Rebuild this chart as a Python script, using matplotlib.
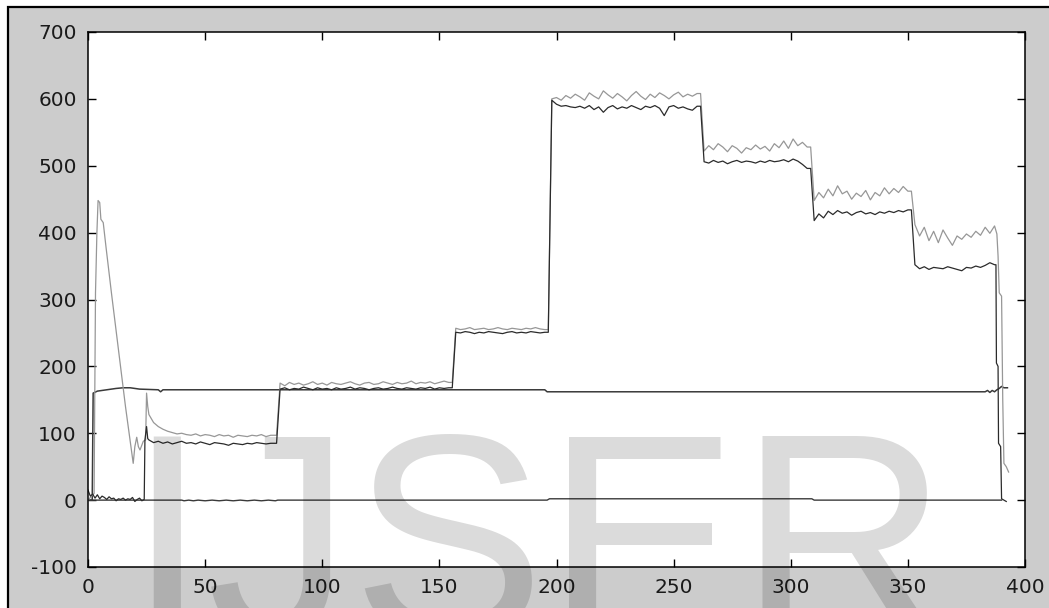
import numpy as np
from matplotlib import pyplot as plt
from matplotlib.patches import Rectangle

plt.rcParams['axes.unicode_minus'] = False

# ---- data ----
# gray trace (upper) : start-up part, then plateaus sampled every 2 s
gray_head_x = [0, 1, 2, 2.6, 3.2, 3.8, 4.3, 5, 5.5, 6.5, 7.7, 10, 13, 16, 19.3, 20, 20.8, 21.5, 22.2, 23.6, 24.6, 25, 25.5]
gray_head_y = [0, 4, 8, 10, 310, 400, 448, 445, 420, 415, 378, 310, 225, 140, 55, 80, 94, 80, 75, 88, 90, 160, 140]
gray_p1 = [128, 116, 110, 106, 103, 101, 99, 100, 98, 97, 99, 96, 98, 97, 95, 98, 96, 97, 94, 97, 96, 95, 97, 96, 98, 95, 97]
gray_p2 = [175, 171, 176, 173, 175, 172, 174, 177, 173, 175, 172, 176, 174, 173, 175, 177, 174, 172, 175, 176, 173,
           174, 177, 175, 173, 176, 174, 175, 178, 174, 176, 175, 177, 174, 176, 178, 176]
gray_p3 = [257, 255, 256, 258, 255, 256, 257, 255, 256, 258, 256, 255, 257, 256, 255, 257, 256, 258, 256, 255]
gray_p4 = [600, 602, 598, 605, 601, 607, 603, 598, 609, 604, 600, 612, 606, 601, 608, 603, 597, 605, 611, 604, 599,
           607, 602, 609, 605, 600, 606, 610, 603, 607, 604, 608]
gray_p5 = [522, 530, 524, 533, 528, 521, 530, 526, 519, 527, 524, 531, 525, 529, 522, 533, 527, 537, 526, 540, 530, 535, 528]
gray_p6 = [448, 460, 452, 465, 455, 470, 458, 462, 450, 459, 454, 463, 449, 460, 455, 467, 458, 466, 460, 469, 462]
gray_p7 = [412, 395, 408, 388, 402, 385, 404, 392, 381, 395, 390, 398, 393, 402, 396, 408, 399, 410]
gray_tail_x = [388, 388.5, 389, 390, 390.5, 391, 392, 393]
gray_tail_y = [398, 365, 310, 305, 150, 55, 50, 42]

# black trace (lower)
black_head_x = [0, 1, 2, 3, 4, 5, 6, 7, 8, 9, 10, 11, 12, 13, 14, 15, 16, 17, 18, 19, 20, 21, 22, 23, 24, 24.3, 25, 25.5]
black_head_y = [15, 6, 9, 3, 8, 2, 6, 4, 1, 5, 2, 3, -1, 2, 1, 3, 0, 2, 1, 4, -2, 1, 3, -1, 1, 90, 110, 92]
black_p1 = [90, 86, 88, 85, 87, 84, 86, 88, 85, 86, 84, 87, 85, 83, 86, 85, 84, 82, 85, 84, 83, 85, 84, 86, 85, 84, 85]
black_p2 = [166, 168, 165, 167, 166, 169, 167, 165, 168, 166, 167, 165, 168, 166, 167, 169, 166, 168, 167, 165, 167,
            168, 166, 167, 169, 167, 166, 168, 167, 166, 168, 167, 169, 166, 168, 167, 168]
black_p3 = [251, 250, 252, 251, 249, 251, 250, 252, 251, 250, 249, 251, 252, 250, 251, 250, 252, 251, 250, 251]
black_p4 = [598, 592, 589, 590, 588, 587, 589, 586, 590, 584, 588, 580, 587, 590, 585, 588, 586, 590, 587, 584, 589,
            587, 590, 586, 575, 588, 590, 586, 588, 585, 583, 589]
black_p5 = [506, 504, 508, 505, 507, 503, 506, 508, 505, 507, 506, 504, 507, 505, 508, 506, 507, 509, 506, 510, 507, 502, 496]
black_p6 = [418, 428, 422, 432, 427, 433, 429, 431, 426, 430, 432, 428, 430, 427, 431, 429, 432, 430, 433, 431, 434]
black_p7 = [352, 346, 349, 345, 348, 347, 346, 349, 347, 345, 343, 348, 347, 350, 348, 351, 355, 352]
black_tail_x = [387.6, 387.8, 388.5, 388.7, 389.6, 390, 391, 392]
black_tail_y = [352, 205, 200, 85, 80, 2, 0, -2]

# plateau start times (s) for p1..p7
plateau_start = [26, 82, 157, 198, 263, 310, 353]

# flat trace near 165
flat_x = [0, 1.8, 2.2, 4, 8, 12, 15, 18, 20, 22, 30, 31, 32, 60, 100, 150, 195, 196, 250, 300, 350,
          383, 384, 385, 386, 387, 388, 389, 390, 391, 392.5]
flat_y = [0, 0, 160, 163, 165, 167, 168, 168, 167, 166, 165, 162, 165, 165, 165, 165, 165, 162, 162, 162, 162,
          162, 164, 161, 164, 162, 165, 167, 170, 168, 168]

# trace near zero
zero_x = [0, 40, 41, 43, 45, 47, 50, 53, 56, 59, 62, 65, 68, 71, 74, 77, 80, 81, 196, 197, 309, 310, 390]
zero_y = [0, 0, -1, 0, -1, 0, -1, 0, -1, 0, -1, 0, -1, 0, -1, 0, -1, 0, 0, 2, 2, 0, 0]


def build(head_x, head_y, plateaus, tail_x, tail_y):
    xs, ys = list(head_x), list(head_y)
    for x0, vals in zip(plateau_start, plateaus):
        xs += [x0 + 2 * i for i in range(len(vals))]
        ys += vals
    return np.array(xs + tail_x, float), np.array(ys + tail_y, float)


def stepify(x, y):
    # insert a point right before each plateau start so the jump is vertical
    xs, ys = [], []
    for i in range(len(x)):
        if i > 0 and x[i] in plateau_start[1:]:
            xs.append(x[i] - 1.5)
            ys.append(y[i - 1])
        xs.append(x[i])
        ys.append(y[i])
    return xs, ys


gx, gy = build(gray_head_x, gray_head_y,
               [gray_p1, gray_p2, gray_p3, gray_p4, gray_p5, gray_p6, gray_p7], gray_tail_x, gray_tail_y)
bx, by = build(black_head_x, black_head_y,
               [black_p1, black_p2, black_p3, black_p4, black_p5, black_p6, black_p7], black_tail_x, black_tail_y)
gx, gy = stepify(gx, gy)
bx, by = stepify(bx, by)

# ---- figure ----
W, H = 1049, 608
fig = plt.figure(figsize=(W / 100, H / 100), dpi=100, facecolor='white')
fig.patches.append(Rectangle((8 / W, -0.1), 1.2, 0.1 + 1 - 7 / H, transform=fig.transFigure,
                             facecolor='#cccccc', edgecolor='black', linewidth=1.6, zorder=-10))

ax = fig.add_axes([88 / W, 1 - 567 / H, 937 / W, 535 / H])
ax.set_zorder(1)
ax.plot(zero_x, zero_y, color='#3a3a3a', lw=1.0)
ax.plot(flat_x, flat_y, color='#3a3a3a', lw=1.1)
ax.plot(gx, gy, color='#979797', lw=0.9)
ax.plot(bx, by, color='#2b2b2b', lw=0.9)

ax.set_xlim(0, 400)
ax.set_ylim(-100, 700)
ax.set_xticks(np.arange(0, 401, 50))
ax.set_yticks(np.arange(-100, 701, 100))
ax.tick_params(direction='in', length=5.5, width=1.0, top=True, right=True,
               labelsize=14.5, pad=8, colors='black', labelcolor='#1a1a1a')
for s in ax.spines.values():
    s.set_linewidth(1.1)
for lab in ax.get_xticklabels() + ax.get_yticklabels():
    lab.set_family('DejaVu Sans')

# watermark
fig.text(126 / W, 1 - 636 / H, 'IJSER', fontsize=209, family='Liberation Sans',
         color='black', alpha=0.14, ha='left', va='baseline', zorder=5)

fig.savefig('out.png', dpi=100, facecolor=fig.get_facecolor())
